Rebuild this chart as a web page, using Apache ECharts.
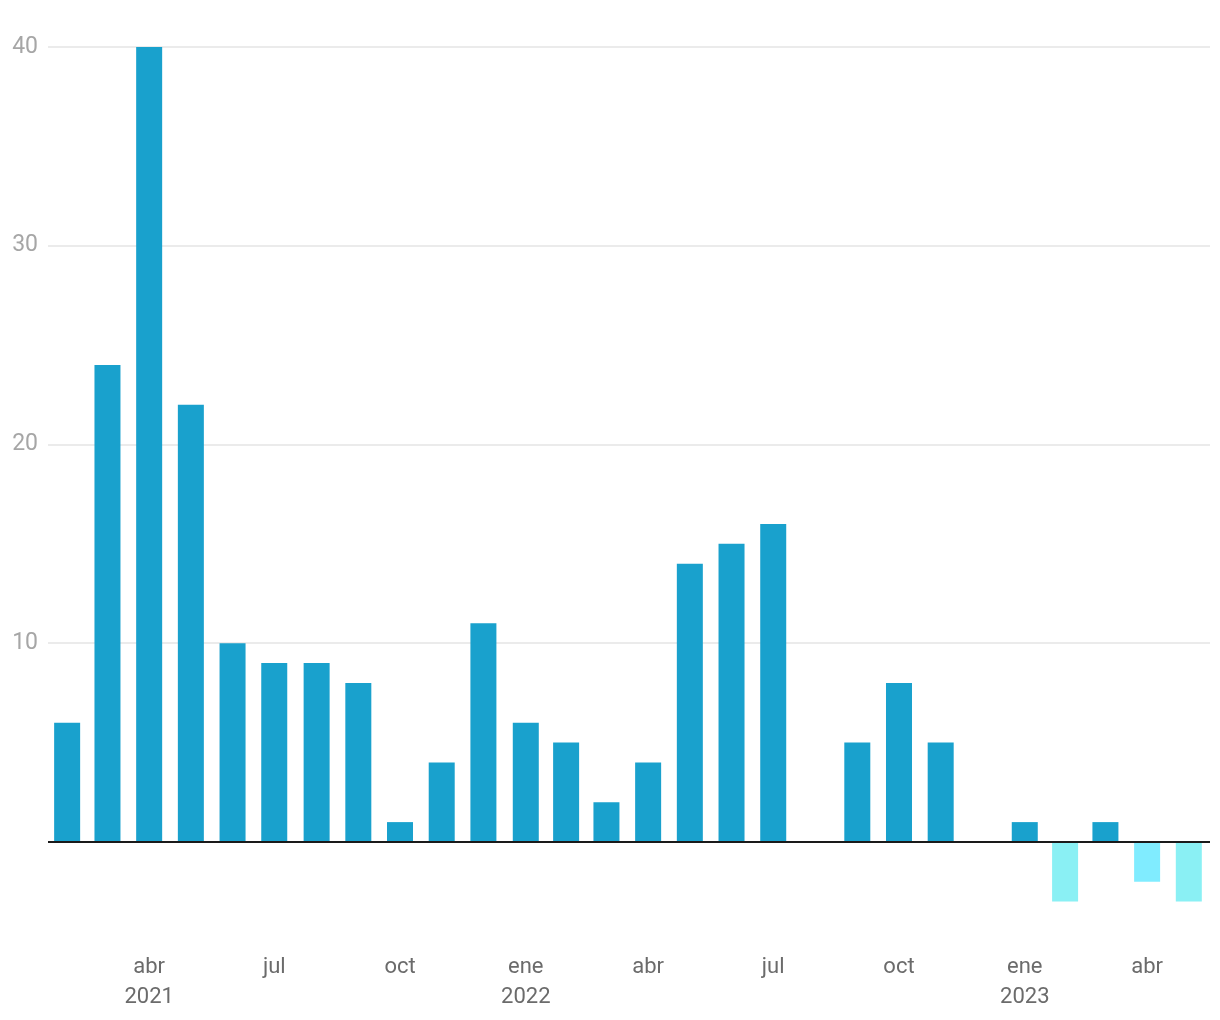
<!DOCTYPE html>
<html>
<head>
<meta charset="utf-8">
<script src="https://cdn.jsdelivr.net/npm/echarts@6/dist/echarts.min.js"></script>
<style>
html,body{margin:0;padding:0;background:#fff;}
#chart{width:1220px;height:1020px;}
</style>
</head>
<body>
<div id="chart"></div>
<script>
// Months from Feb 2021 to May 2023
const years  = [2021,2021,2021,2021,2021,2021,2021,2021,2021,2021,2021,
                2022,2022,2022,2022,2022,2022,2022,2022,2022,2022,2022,2022,
                2023,2023,2023,2023,2023];
const months = [2,3,4,5,6,7,8,9,10,11,12,
                1,2,3,4,5,6,7,8,9,10,11,12,
                1,2,3,4,5];
const values = [6,24,40,22,10,9,9,8,1,4,11,
                6,5,2,4,14,15,16,0,5,8,5,0,
                1,-3,1,-2,-3];
const monthNames = ['ene','feb','mar','abr','may','jun','jul','ago','sep','oct','nov','dic'];
const yTickValues = [0,10,20,30,40];
const yLabelValues = [10,20,30,40];

// time expressed in days since epoch; bars sit at the middle of each month
const DAY = 86400000;
const dayOf = (y, m) => Date.UTC(y, m - 1, 1) / DAY;
const xDates = years.map((y, i) => (dayOf(y, months[i]) + dayOf(y, months[i] + 1)) / 2);
const xMin = dayOf(years[0], months[0]);
const xMax = dayOf(years[years.length - 1], months[months.length - 1] + 1);

const labelMap = new Map();
const labelValues = [];
let firstLabelDone = false;
xDates.forEach((t, i) => {
  const m = months[i];
  if ((m - 1) % 3 !== 0) return;
  let s = monthNames[m - 1];
  if (!firstLabelDone || m === 1) { s += '\n' + years[i]; firstLabelDone = true; }
  labelMap.set(t, s);
  labelValues.push(t);
});

const seriesData = xDates.map((t, i) => [t, values[i]]);

const chart = echarts.init(document.getElementById('chart'));
chart.setOption({
  animation: false,
  backgroundColor: '#ffffff',
  textStyle: { fontFamily: 'Roboto' },
  grid: { left: 48, right: 10, top: 47, bottom: 118.4, containLabel: false },
  xAxis: {
    type: 'value',
    min: xMin,
    max: xMax,
    axisLine: { show: false, onZero: false },
    axisTick: { show: false },
    splitLine: { show: false },
    axisLabel: {
      customValues: labelValues,
      margin: 51,
      fontSize: 22,
      lineHeight: 30,
      color: '#6b6b6b',
      fontFamily: 'Roboto',
      formatter: (v) => labelMap.get(v) || ''
    }
  },
  yAxis: {
    type: 'value',
    min: -3,
    max: 40,
    axisLine: { show: false },
    axisTick: { show: false, customValues: yTickValues },
    splitLine: { show: true, lineStyle: { color: '#e4e4e4', width: 1.5 } },
    axisLabel: {
      customValues: yLabelValues,
      margin: 10,
      fontSize: 23,
      color: '#a6a6a6',
      fontFamily: 'Roboto'
    }
  },
  series: [{
    type: 'bar',
    data: seriesData,
    barWidth: 26,
    itemStyle: {
      color: (p) => p.value[1] >= 0 ? '#19a1cd' : (p.value[1] <= -2.5 ? '#8af0f4' : '#80ecff')
    },
    markLine: {
      silent: true,
      symbol: ['none', 'none'],
      label: { show: false },
      lineStyle: { color: '#1a1a1a', width: 2, type: 'solid' },
      data: [{ yAxis: 0 }]
    }
  }]
});
</script>
</body>
</html>
